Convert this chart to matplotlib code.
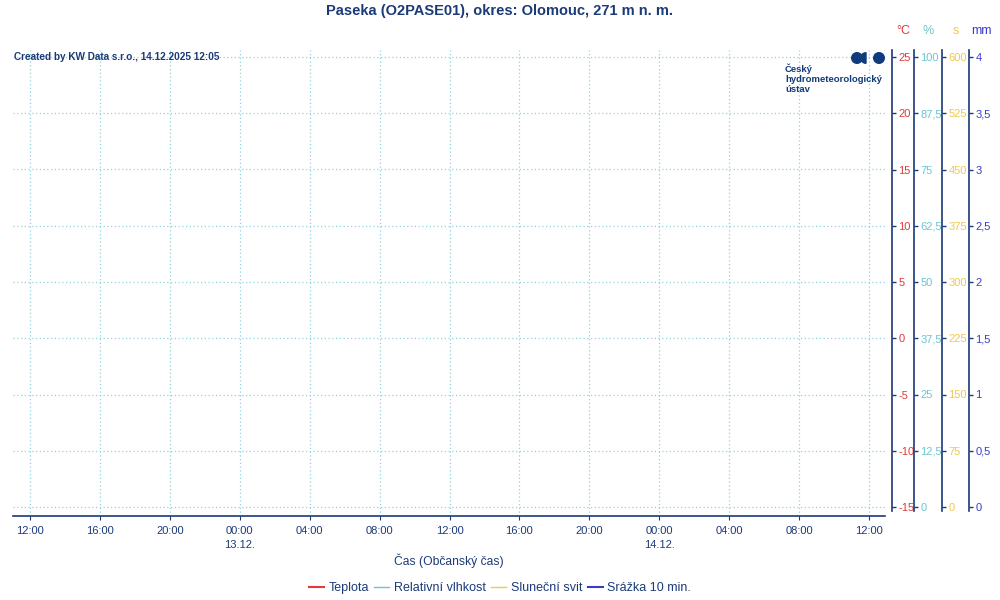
import matplotlib
matplotlib.use("Agg")
import matplotlib.pyplot as plt
from matplotlib.lines import Line2D
from matplotlib.patches import Circle, Wedge

plt.rcParams['font.family'] = ['Liberation Sans', 'DejaVu Sans']

# data (station reported no values in this window)
hours = []          # hours since 12.12. 12:00
teplota = []        # °C
vlhkost = []        # %
svit = []           # s
srazka = []         # mm

x_ticks = [0, 4, 8, 12, 16, 20, 24, 28, 32, 36, 40, 44, 48]
x_labels = ["12:00", "16:00", "20:00", "00:00\n13.12.", "04:00", "08:00", "12:00",
            "16:00", "20:00", "00:00\n14.12.", "04:00", "08:00", "12:00"]
t_ticks = [-15, -10, -5, 0, 5, 10, 15, 20, 25]
rh_ticks = [0, 12.5, 25, 37.5, 50, 62.5, 75, 87.5, 100]
s_ticks = [0, 75, 150, 225, 300, 375, 450, 525, 600]
mm_ticks = [0, 0.5, 1, 1.5, 2, 2.5, 3, 3.5, 4]

navy = "#1b3a78"
c_t = "#e03a3a"
c_rh = "#6cc6d0"
c_s = "#f2c84b"
c_mm = "#3a3ad0"
gridc = "#92d2de"

W, H = 1000, 600
fig = plt.figure(figsize=(10, 6), dpi=100)

def fx(px):
    return px / W

def fy(py):
    return 1 - py / H

# main plotting area
ax = fig.add_axes([fx(13), fy(516), fx(885 - 13), (516 - 50) / H])
px_per_deg = (507 - 57) / 40.0
ax.set_ylim(25 - (516 - 57) / px_per_deg, 25 + (57 - 50) / px_per_deg)
px_per_h = (869 - 30) / 48.0
ax.set_xlim(-(30 - 13) / px_per_h, 48 + (885 - 869) / px_per_h)

ax.plot(hours, teplota, color=c_t)
ax.plot(hours, vlhkost, color=c_rh)
ax.plot(hours, svit, color=c_s)
ax.plot(hours, srazka, color=c_mm)
for s in ["left", "right", "top"]:
    ax.spines[s].set_visible(False)
ax.spines["bottom"].set_color(navy)
ax.spines["bottom"].set_linewidth(1.2)
ax.set_xticks(x_ticks)
ax.set_xticklabels(x_labels, linespacing=1.5)
ax.tick_params(axis="x", colors=navy, labelcolor=navy, length=3, labelsize=8, pad=4)
ax.set_yticks(t_ticks)
ax.tick_params(axis="y", left=False, labelleft=False)
ax.grid(True, color=gridc, linestyle=(0, (1, 2)), linewidth=0.9)
ax.set_xlabel("Čas (Občanský čas)", color=navy, fontsize=8.7, labelpad=3)

# right-hand value axes
def fmt(v):
    return ("%g" % v).replace(".", ",")

axes_specs = [
    (892, t_ticks, -15, 25, c_t, "°C", 903),
    (914, rh_ticks, 0, 100, c_rh, "%", 928),
    (942, s_ticks, 0, 600, c_s, "s", 956),
    (969, mm_ticks, 0, 4, c_mm, "mm", 981),
]
top_px, bot_px = 50, 511
for xpos, ticks, lo, hi, col, unit, ux in axes_specs:
    a = fig.add_axes([fx(xpos), fy(bot_px), 0.0001, (bot_px - top_px) / H])
    a.patch.set_visible(False)
    per_px = (hi - lo) / (507 - 57)
    a.set_ylim(lo - (bot_px - 507) * per_px, hi + (57 - top_px) * per_px)
    for s in ["left", "top", "bottom"]:
        a.spines[s].set_visible(False)
    a.spines["right"].set_color(navy)
    a.spines["right"].set_linewidth(1.2)
    a.set_xticks([])
    a.set_yticks(ticks)
    a.set_yticklabels([fmt(v) for v in ticks])
    a.tick_params(axis="y", left=False, labelleft=False, right=True, labelright=True,
                  direction="out", colors=navy, labelcolor=col, length=3, width=1,
                  labelsize=8, pad=1.5)
    fig.text(fx(ux), fy(31), unit, color=col, fontsize=9, ha="center", va="center")

fig.text(0.5, fy(11), "Paseka (O2PASE01), okres: Olomouc, 271 m n. m.",
         ha="center", va="center", fontsize=10.5, fontweight="bold", color=navy)
fig.text(fx(14), fy(57), "Created by KW Data s.r.o., 14.12.2025 12:05",
         ha="left", va="center", fontsize=7.2, fontweight="bold", color=navy)

# logo
logo = "#0f3b7c"
fig.text(fx(785), fy(63), "Český\nhydrometeorologický\nústav", ha="left", va="top",
         fontsize=6.8, fontweight="bold", color=logo, linespacing=1.15)
la = fig.add_axes([0, 0, 1, 1], zorder=5)
la.set_xlim(0, W)
la.set_ylim(H, 0)
la.axis("off")
la.set_aspect("equal")
la.add_patch(Circle((857, 58), 5.3, color=logo))
la.add_patch(Wedge((866, 58), 5.3, 90, 270, color=logo))
la.add_patch(Circle((879, 58), 5.3, color=logo))

handles = [
    Line2D([], [], color=c_t, lw=1.5),
    Line2D([], [], color=c_rh, lw=1.0),
    Line2D([], [], color=c_s, lw=1.0),
    Line2D([], [], color=c_mm, lw=1.5),
]
labels = ["Teplota", "Relativní vlhkost", "Sluneční svit", "Srážka 10 min."]
leg = fig.legend(handles, labels, loc="center", bbox_to_anchor=(0.5, fy(588)), ncol=4,
                 frameon=False, fontsize=9.0, handlelength=1.2, handletextpad=0.35,
                 columnspacing=0.45)
for t in leg.get_texts():
    t.set_color(navy)

fig.savefig("out.png", dpi=100)
